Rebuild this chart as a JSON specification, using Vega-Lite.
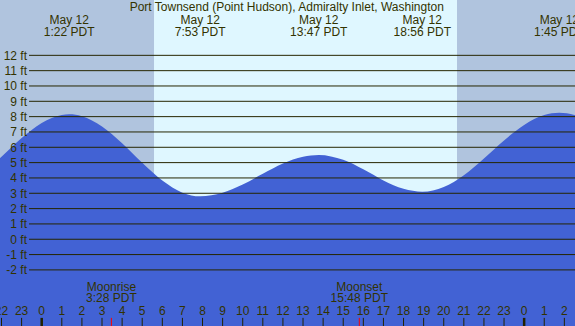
{
  "$schema": "https://vega.github.io/schema/vega-lite/v6.json",
  "width": 575,
  "height": 326,
  "autosize": "none",
  "padding": 0,
  "background": "#B0C4DE",
  "view": {"stroke": null},
  "config": {"text": {"font": "Liberation Sans", "fontSize": 12, "color": "#333300"}},
  "datasets": {
    "bg": [
      {"start": -3, "end": 5.587, "phase": "night"},
      {"start": 5.587, "end": 20.66, "phase": "day"},
      {"start": 20.66, "end": 28, "phase": "night"}
    ],
    "tide": [
      {"t": -3, "ft": 4.27}, {"t": -2, "ft": 5.39}, {"t": -1, "ft": 6.6}, {"t": 0, "ft": 7.59},
      {"t": 1, "ft": 8.11}, {"t": 1.367, "ft": 8.15}, {"t": 2, "ft": 8.03}, {"t": 3, "ft": 7.36},
      {"t": 4, "ft": 6.27}, {"t": 5, "ft": 4.99}, {"t": 6, "ft": 3.83}, {"t": 7, "ft": 3.04},
      {"t": 7.883, "ft": 2.8}, {"t": 9, "ft": 3.03}, {"t": 10, "ft": 3.57}, {"t": 11, "ft": 4.27},
      {"t": 12, "ft": 4.94}, {"t": 13, "ft": 5.38}, {"t": 13.783, "ft": 5.5}, {"t": 15, "ft": 5.18},
      {"t": 16, "ft": 4.56}, {"t": 17, "ft": 3.84}, {"t": 18, "ft": 3.29}, {"t": 18.933, "ft": 3.1},
      {"t": 20, "ft": 3.41}, {"t": 21, "ft": 4.18}, {"t": 22, "ft": 5.27}, {"t": 23, "ft": 6.45},
      {"t": 24, "ft": 7.46}, {"t": 25, "ft": 8.1}, {"t": 25.75, "ft": 8.25}, {"t": 26.5, "ft": 8.1},
      {"t": 27, "ft": 7.78}
    ],
    "grid": [
      {"ft": 12, "label": "12 ft"}, {"ft": 11, "label": "11 ft"}, {"ft": 10, "label": "10 ft"},
      {"ft": 9, "label": "9 ft"}, {"ft": 8, "label": "8 ft"}, {"ft": 7, "label": "7 ft"},
      {"ft": 6, "label": "6 ft"}, {"ft": 5, "label": "5 ft"}, {"ft": 4, "label": "4 ft"},
      {"ft": 3, "label": "3 ft"}, {"ft": 2, "label": "2 ft"}, {"ft": 1, "label": "1 ft"},
      {"ft": 0, "label": "0 ft"}, {"ft": -1, "label": "-1 ft"}, {"ft": -2, "label": "-2 ft"}
    ],
    "hours": [
      {"t": -2, "label": "22", "kind": "hour"}, {"t": -1, "label": "23", "kind": "hour"},
      {"t": 0, "label": "0", "kind": "midnight"}, {"t": 1, "label": "1", "kind": "hour"},
      {"t": 2, "label": "2", "kind": "hour"}, {"t": 3, "label": "3", "kind": "hour"},
      {"t": 4, "label": "4", "kind": "hour"}, {"t": 5, "label": "5", "kind": "hour"},
      {"t": 6, "label": "6", "kind": "hour"}, {"t": 7, "label": "7", "kind": "hour"},
      {"t": 8, "label": "8", "kind": "hour"}, {"t": 9, "label": "9", "kind": "hour"},
      {"t": 10, "label": "10", "kind": "hour"}, {"t": 11, "label": "11", "kind": "hour"},
      {"t": 12, "label": "12", "kind": "hour"}, {"t": 13, "label": "13", "kind": "hour"},
      {"t": 14, "label": "14", "kind": "hour"}, {"t": 15, "label": "15", "kind": "hour"},
      {"t": 16, "label": "16", "kind": "hour"}, {"t": 17, "label": "17", "kind": "hour"},
      {"t": 18, "label": "18", "kind": "hour"}, {"t": 19, "label": "19", "kind": "hour"},
      {"t": 20, "label": "20", "kind": "hour"}, {"t": 21, "label": "21", "kind": "hour"},
      {"t": 22, "label": "22", "kind": "hour"}, {"t": 23, "label": "23", "kind": "hour"},
      {"t": 24, "label": "0", "kind": "midnight"}, {"t": 25, "label": "1", "kind": "hour"},
      {"t": 26, "label": "2", "kind": "hour"}
    ],
    "moon": [
      {"t": 3.467, "event": "Moonrise", "time": "3:28 PDT", "kind": "moon"},
      {"t": 15.8, "event": "Moonset", "time": "15:48 PDT", "kind": "moon"}
    ],
    "peaks": [
      {"t": 1.367, "date": "May 12", "time": "1:22 PDT"},
      {"t": 7.883, "date": "May 12", "time": "7:53 PDT"},
      {"t": 13.783, "date": "May 12", "time": "13:47 PDT"},
      {"t": 18.933, "date": "May 12", "time": "18:56 PDT"},
      {"t": 25.75, "date": "May 12", "time": "1:45 PDT"}
    ],
    "title": [
      {"t": 12.19, "text": "Port Townsend (Point Hudson), Admiralty Inlet, Washington"}
    ]
  },
  "resolve": {"scale": {"color": "independent", "strokeWidth": "independent"}},
  "layer": [
    {
      "data": {"name": "bg"},
      "mark": {"type": "rect", "clip": true},
      "encoding": {
        "x": {"field": "start", "type": "quantitative", "scale": {"domain": [-2.075, 26.53], "nice": false, "zero": false}, "axis": null},
        "x2": {"field": "end"},
        "color": {"field": "phase", "type": "nominal", "scale": {"domain": ["night", "day"], "range": ["#B0C4DE", "#DFF7FF"]}, "legend": null}
      }
    },
    {
      "data": {"name": "tide"},
      "mark": {"type": "area", "interpolate": "monotone", "color": "#4262D4", "clip": true},
      "encoding": {
        "x": {"field": "t", "type": "quantitative", "axis": null},
        "y": {"field": "ft", "type": "quantitative", "scale": {"domain": [-5.66, 15.61], "nice": false, "zero": false}, "axis": null},
        "y2": {"datum": -5.66}
      }
    },
    {
      "data": {"name": "grid"},
      "mark": {"type": "rule", "color": "#262600", "strokeWidth": 1},
      "encoding": {
        "x": {"datum": -0.63},
        "x2": {"datum": 26.53},
        "y": {"field": "ft", "type": "quantitative"}
      }
    },
    {
      "data": {"name": "grid"},
      "mark": {"type": "text", "align": "right", "baseline": "alphabetic", "dy": 4.5},
      "encoding": {
        "x": {"datum": -0.73},
        "y": {"field": "ft", "type": "quantitative"},
        "text": {"field": "label"}
      }
    },
    {
      "data": {"name": "title"},
      "mark": {"type": "text", "align": "center", "baseline": "alphabetic"},
      "encoding": {
        "x": {"field": "t", "type": "quantitative"},
        "y": {"datum": 14.89},
        "text": {"field": "text"}
      }
    },
    {
      "data": {"name": "peaks"},
      "mark": {"type": "text", "align": "center", "baseline": "alphabetic"},
      "encoding": {
        "x": {"field": "t", "type": "quantitative"},
        "y": {"datum": 14.05},
        "text": {"field": "date"}
      }
    },
    {
      "data": {"name": "peaks"},
      "mark": {"type": "text", "align": "center", "baseline": "alphabetic"},
      "encoding": {
        "x": {"field": "t", "type": "quantitative"},
        "y": {"datum": 13.26},
        "text": {"field": "time"}
      }
    },
    {
      "data": {"name": "hours"},
      "mark": {"type": "rule"},
      "encoding": {
        "x": {"field": "t", "type": "quantitative"},
        "y": {"datum": -5.66},
        "y2": {"datum": -5.13},
        "color": {"field": "kind", "type": "nominal", "scale": {"domain": ["hour", "midnight", "moon"], "range": ["#222200", "#222200", "#FF0000"]}, "legend": null},
        "strokeWidth": {"field": "kind", "type": "nominal", "scale": {"domain": ["hour", "midnight", "moon"], "range": [1, 4, 1]}, "legend": null}
      }
    },
    {
      "data": {"name": "moon"},
      "mark": {"type": "rule", "color": "#FF0000", "strokeWidth": 1},
      "encoding": {
        "x": {"field": "t", "type": "quantitative"},
        "y": {"datum": -5.66},
        "y2": {"datum": -5.13}
      }
    },
    {
      "data": {"name": "hours"},
      "mark": {"type": "text", "align": "center", "baseline": "alphabetic"},
      "encoding": {
        "x": {"field": "t", "type": "quantitative"},
        "y": {"datum": -4.97},
        "text": {"field": "label"}
      }
    },
    {
      "data": {"name": "moon"},
      "mark": {"type": "text", "align": "center", "baseline": "alphabetic"},
      "encoding": {
        "x": {"field": "t", "type": "quantitative"},
        "y": {"datum": -3.37},
        "text": {"field": "event"}
      }
    },
    {
      "data": {"name": "moon"},
      "mark": {"type": "text", "align": "center", "baseline": "alphabetic"},
      "encoding": {
        "x": {"field": "t", "type": "quantitative"},
        "y": {"datum": -4.09},
        "text": {"field": "time"}
      }
    }
  ]
}
